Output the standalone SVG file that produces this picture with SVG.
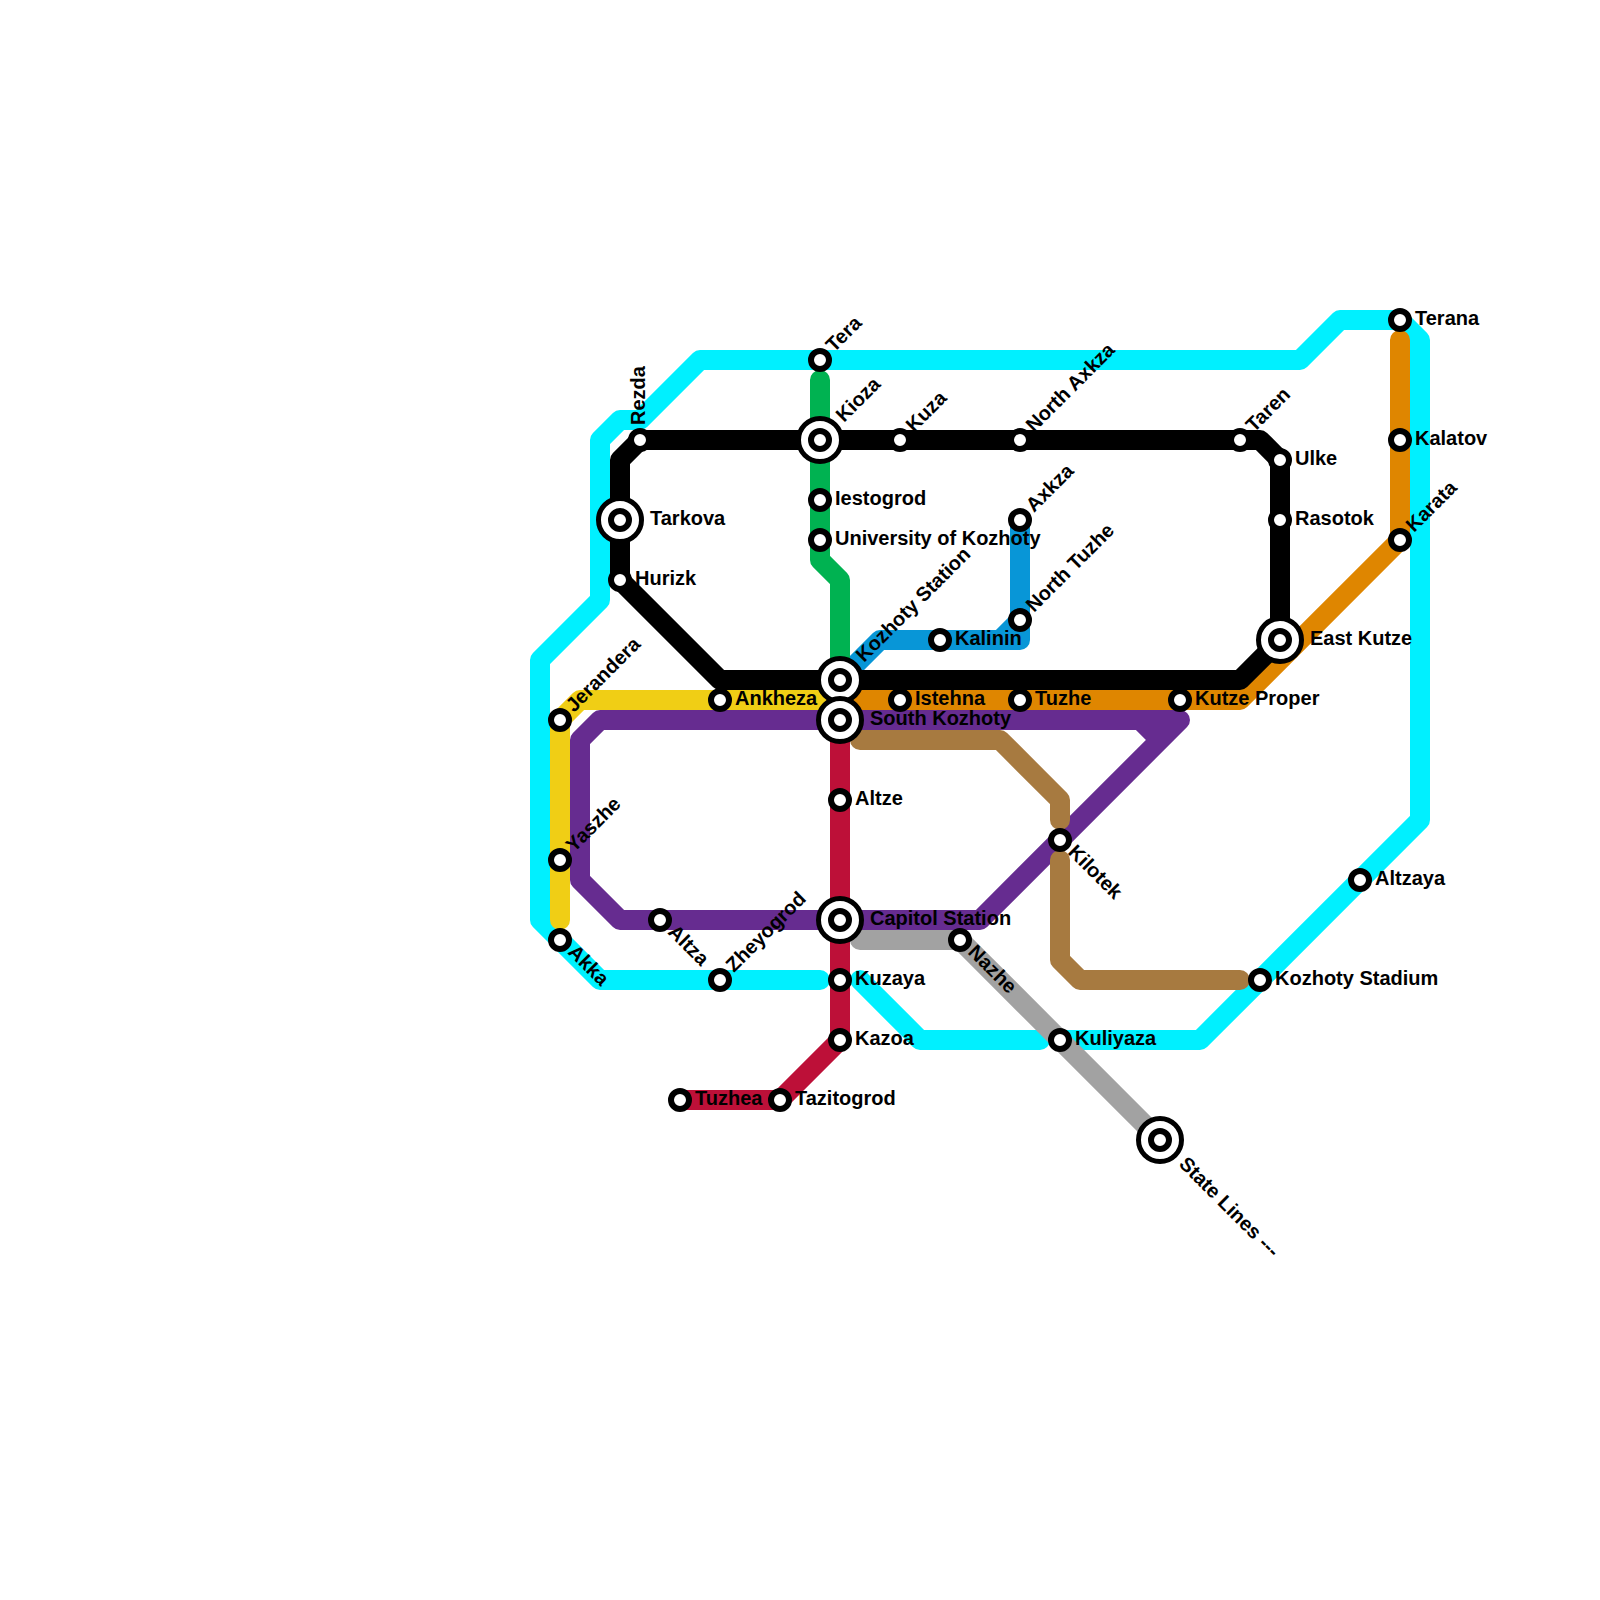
<svg xmlns="http://www.w3.org/2000/svg" width="1600" height="1600" viewBox="0 0 1600 1600">
<style>
.l{fill:none;stroke-width:20;stroke-linecap:round;stroke-linejoin:round}
.s{fill:#fff;stroke:#000;stroke-width:6}
.o{fill:#fff;stroke:#000;stroke-width:5}
text{font-family:"Liberation Sans",Arial,sans-serif;font-weight:700;font-size:20px;fill:#000}
</style>
<rect width="1600" height="1600" fill="#fff"/>
<g id="connectors">
<path class="l" stroke="#00f0ff" d="M820,980H600L540,920V660L600,600V440L620,420H640L700,360H1300L1340,320H1400L1420,340V820L1200,1040H1060M1040,1040H920L860,980"/>
<path class="l" stroke="#f0ce15" d="M560,920V720L580,700H840"/>
<path class="l" stroke="#df8600" d="M860,700H1240L1400,540V340"/>
<path class="l" stroke="#0896d7" d="M1020,520V640H880L840,680M1000,640L1020,620"/>
<path class="l" stroke="#00b251" d="M820,380V560L840,580V680"/>
<path class="l" stroke="#662c90" d="M840,720H600L580,740V880L620,920H980L1180,720H840M1140,720L1160,740"/>
<path class="l" stroke="#a77a40" d="M860,740H1000L1060,800V820M1060,860V960L1080,980H1240"/>
<path class="l" stroke="#a2a2a2" d="M860,940H960L1160,1140"/>
<path class="l" stroke="#bd1038" d="M840,720V1040L780,1100H680"/>
<path class="l" stroke="#000" d="M720,680L620,580V460L640,440H1260L1280,460V640L1240,680H720"/>
</g>
<g id="tera"><circle class="s" cx="820" cy="360" r="9"/><text transform="translate(834,353) rotate(-45)">Tera</text></g>
<g id="kioza"><circle class="o" cx="820" cy="440" r="21.5"/><circle class="s" cx="820" cy="440" r="9"/><text transform="translate(844,423) rotate(-45)">Kioza</text></g>
<g id="kuza"><circle class="s" cx="900" cy="440" r="9"/><text transform="translate(914,433) rotate(-45)">Kuza</text></g>
<g id="north-axkza"><circle class="s" cx="1020" cy="440" r="9"/><text transform="translate(1034,433) rotate(-45)">North Axkza</text></g>
<g id="taren"><circle class="s" cx="1240" cy="440" r="9"/><text transform="translate(1254,433) rotate(-45)">Taren</text></g>
<g id="ulke"><circle class="s" cx="1280" cy="460" r="9"/><text x="1295" y="465">Ulke</text></g>
<g id="rasotok"><circle class="s" cx="1280" cy="520" r="9"/><text x="1295" y="525">Rasotok</text></g>
<g id="east-kutze"><circle class="o" cx="1280" cy="640" r="21.5"/><circle class="s" cx="1280" cy="640" r="9"/><text x="1310" y="645">East Kutze</text></g>
<g id="terana"><circle class="s" cx="1400" cy="320" r="9"/><text x="1415" y="325">Terana</text></g>
<g id="kalatov"><circle class="s" cx="1400" cy="440" r="9"/><text x="1415" y="445">Kalatov</text></g>
<g id="karata"><circle class="s" cx="1400" cy="540" r="9"/><text transform="translate(1414,533) rotate(-45)">Karata</text></g>
<g id="rezda"><circle class="s" cx="640" cy="440" r="9"/><text transform="translate(645,425) rotate(-90)">Rezda</text></g>
<g id="tarkova"><circle class="o" cx="620" cy="520" r="21.5"/><circle class="s" cx="620" cy="520" r="9"/><text x="650" y="525">Tarkova</text></g>
<g id="hurizk"><circle class="s" cx="620" cy="580" r="9"/><text x="635" y="585">Hurizk</text></g>
<g id="jerandera"><circle class="s" cx="560" cy="720" r="9"/><text transform="translate(574,713) rotate(-45)">Jerandera</text></g>
<g id="ankheza"><circle class="s" cx="720" cy="700" r="9"/><text x="735" y="705">Ankheza</text></g>
<g id="kozhoty-station"><circle class="o" cx="840" cy="680" r="21.5"/><circle class="s" cx="840" cy="680" r="9"/><text transform="translate(864,663) rotate(-45)">Kozhoty Station</text></g>
<g id="south-kozhoty"><circle class="o" cx="840" cy="720" r="21.5"/><circle class="s" cx="840" cy="720" r="9"/><text x="870" y="725">South Kozhoty</text></g>
<g id="iestogrod"><circle class="s" cx="820" cy="500" r="9"/><text x="835" y="505">Iestogrod</text></g>
<g id="university"><circle class="s" cx="820" cy="540" r="9"/><text x="835" y="545">University of Kozhoty</text></g>
<g id="kalinin"><circle class="s" cx="940" cy="640" r="9"/><text x="955" y="645">Kalinin</text></g>
<g id="axkza"><circle class="s" cx="1020" cy="520" r="9"/><text transform="translate(1034,513) rotate(-45)">Axkza</text></g>
<g id="north-tuzhe"><circle class="s" cx="1020" cy="620" r="9"/><text transform="translate(1034,613) rotate(-45)">North Tuzhe</text></g>
<g id="istehna"><circle class="s" cx="900" cy="700" r="9"/><text x="915" y="705">Istehna</text></g>
<g id="tuzhe"><circle class="s" cx="1020" cy="700" r="9"/><text x="1035" y="705">Tuzhe</text></g>
<g id="kutze-proper"><circle class="s" cx="1180" cy="700" r="9"/><text x="1195" y="705">Kutze Proper</text></g>
<g id="altze"><circle class="s" cx="840" cy="800" r="9"/><text x="855" y="805">Altze</text></g>
<g id="kilotek"><circle class="s" cx="1060" cy="840" r="9"/><text transform="translate(1067,853) rotate(45)">Kilotek</text></g>
<g id="capitol-station"><circle class="o" cx="840" cy="920" r="21.5"/><circle class="s" cx="840" cy="920" r="9"/><text x="870" y="925">Capitol Station</text></g>
<g id="nazhe"><circle class="s" cx="960" cy="940" r="9"/><text transform="translate(967,953) rotate(45)">Nazhe</text></g>
<g id="kuzaya"><circle class="s" cx="840" cy="980" r="9"/><text x="855" y="985">Kuzaya</text></g>
<g id="kazoa"><circle class="s" cx="840" cy="1040" r="9"/><text x="855" y="1045">Kazoa</text></g>
<g id="kuliyaza"><circle class="s" cx="1060" cy="1040" r="9"/><text x="1075" y="1045">Kuliyaza</text></g>
<g id="kozhoty-stadium"><circle class="s" cx="1260" cy="980" r="9"/><text x="1275" y="985">Kozhoty Stadium</text></g>
<g id="altzaya"><circle class="s" cx="1360" cy="880" r="9"/><text x="1375" y="885">Altzaya</text></g>
<g id="yaszhe"><circle class="s" cx="560" cy="860" r="9"/><text transform="translate(574,853) rotate(-45)">Yaszhe</text></g>
<g id="altza"><circle class="s" cx="660" cy="920" r="9"/><text transform="translate(667,933) rotate(45)">Altza</text></g>
<g id="zheyogrod"><circle class="s" cx="720" cy="980" r="9"/><text transform="translate(734,973) rotate(-45)">Zheyogrod</text></g>
<g id="akka"><circle class="s" cx="560" cy="940" r="9"/><text transform="translate(567,953) rotate(45)">Akka</text></g>
<g id="tuzhea"><circle class="s" cx="680" cy="1100" r="9"/><text x="695" y="1105">Tuzhea</text></g>
<g id="tazitogrod"><circle class="s" cx="780" cy="1100" r="9"/><text x="795" y="1105">Tazitogrod</text></g>
<g id="state-lines"><circle class="o" cx="1160" cy="1140" r="21.5"/><circle class="s" cx="1160" cy="1140" r="9"/><text transform="translate(1178,1165) rotate(45)">State Lines ---</text></g>
</svg>
